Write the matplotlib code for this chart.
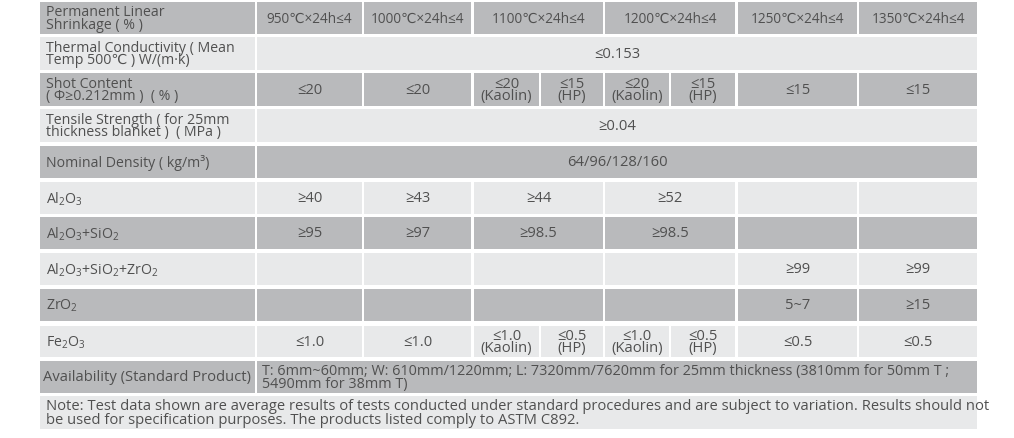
import matplotlib.pyplot as plt
from matplotlib.patches import Rectangle

plt.rcParams['font.family'] = ['Open Sans', 'DejaVu Sans']
plt.rcParams['mathtext.fontset'] = 'custom'
plt.rcParams['mathtext.rm'] = 'Open Sans'

# row headers
row_labels = [
    "Permanent Linear\nShrinkage ( % )",
    "Thermal Conductivity ( Mean\nTemp 500℃ ) W/(m·k)",
    "Shot Content\n( Φ≥0.212mm )  ( % )",
    "Tensile Strength ( for 25mm\nthickness blanket )  ( MPa )",
    "Nominal Density ( kg/m³)",
    r"Al$_2$O$_3$",
    r"Al$_2$O$_3$+SiO$_2$",
    r"Al$_2$O$_3$+SiO$_2$+ZrO$_2$",
    r"ZrO$_2$",
    r"Fe$_2$O$_3$",
    "Availability (Standard Product)",
]

# cells per row: (first sub-column, last sub-column, text)
cells = [
    [(0, 0, "950℃×24h≤4"), (1, 1, "1000℃×24h≤4"), (2, 3, "1100℃×24h≤4"),
     (4, 5, "1200℃×24h≤4"), (6, 6, "1250℃×24h≤4"), (7, 7, "1350℃×24h≤4")],
    [(0, 7, "≤0.153")],
    [(0, 0, "≤20"), (1, 1, "≤20"), (2, 2, "≤20\n(Kaolin)"), (3, 3, "≤15\n(HP)"),
     (4, 4, "≤20\n(Kaolin)"), (5, 5, "≤15\n(HP)"), (6, 6, "≤15"), (7, 7, "≤15")],
    [(0, 7, "≥0.04")],
    [(0, 7, "64/96/128/160")],
    [(0, 0, "≥40"), (1, 1, "≥43"), (2, 3, "≥44"), (4, 5, "≥52"), (6, 6, ""), (7, 7, "")],
    [(0, 0, "≥95"), (1, 1, "≥97"), (2, 3, "≥98.5"), (4, 5, "≥98.5"), (6, 6, ""), (7, 7, "")],
    [(0, 0, ""), (1, 1, ""), (2, 3, ""), (4, 5, ""), (6, 6, "≥99"), (7, 7, "≥99")],
    [(0, 0, ""), (1, 1, ""), (2, 3, ""), (4, 5, ""), (6, 6, "5~7"), (7, 7, "≥15")],
    [(0, 0, "≤1.0"), (1, 1, "≤1.0"), (2, 2, "≤1.0\n(Kaolin)"), (3, 3, "≤0.5\n(HP)"),
     (4, 4, "≤1.0\n(Kaolin)"), (5, 5, "≤0.5\n(HP)"), (6, 6, "≤0.5"), (7, 7, "≤0.5")],
    [(0, 7, "T: 6mm~60mm; W: 610mm/1220mm; L: 7320mm/7620mm for 25mm thickness (3810mm for 50mm T ;\n5490mm for 38mm T)")],
]
note = ("Note: Test data shown are average results of tests conducted under standard procedures and are subject to variation. Results should not\n"
        "be used for specification purposes. The products listed comply to ASTM C892.")

# layout in pixels
label_x = (40, 255)
col_x = [(257, 362), (364, 471), (474, 539), (541, 603), (605, 669), (671, 735), (738, 857), (859, 977)]
row_y = [(3, 35), (38, 71), (74, 107), (110, 143), (147, 179), (183, 215),
         (218, 250), (254, 286), (290, 322), (327, 358), (362, 394)]
note_y = (397, 430)

dark = "#b9babc"
light = "#e8e9ea"
txt = "#505050"

fig = plt.figure(figsize=(10.14, 4.39), dpi=100)
ax = fig.add_axes([0, 0, 1, 1])
ax.set_xlim(0, 1014)
ax.set_ylim(439, 0)
ax.axis("off")

for i, (y0, y1) in enumerate(row_y):
    c = dark if i % 2 == 0 else light
    ax.add_patch(Rectangle((label_x[0], y0), label_x[1] - label_x[0], y1 - y0, color=c, lw=0))
    lab = row_labels[i]
    ax.text(label_x[0] + 3 if i == 10 else label_x[0] + 6, (y0 + y1) / 2, lab, ha="left", va="center",
            fontsize=10.6 if i == 10 else 10.2, color=txt, linespacing=0.8)
    for a, b, t in cells[i]:
        x0, x1 = col_x[a][0], col_x[b][1]
        ax.add_patch(Rectangle((x0, y0), x1 - x0, y1 - y0, color=c, lw=0))
        if i == 10:
            ax.text(x0 + 5, (y0 + y1) / 2, t, ha="left", va="center", fontsize=10.4,
                    color=txt, linespacing=0.9)
        else:
            ax.text((x0 + x1) / 2, (y0 + y1) / 2, t, ha="center", va="center",
                    fontsize=10.6 if i else 9.8, color=txt, linespacing=0.75)

ax.add_patch(Rectangle((label_x[0], note_y[0]), col_x[-1][1] - label_x[0], note_y[1] - note_y[0], color=light, lw=0))
ax.text(label_x[0] + 6, (note_y[0] + note_y[1]) / 2, note, ha="left", va="center",
        fontsize=10.6, color=txt, linespacing=0.95)

fig.savefig("out.png", dpi=100, facecolor="white")
